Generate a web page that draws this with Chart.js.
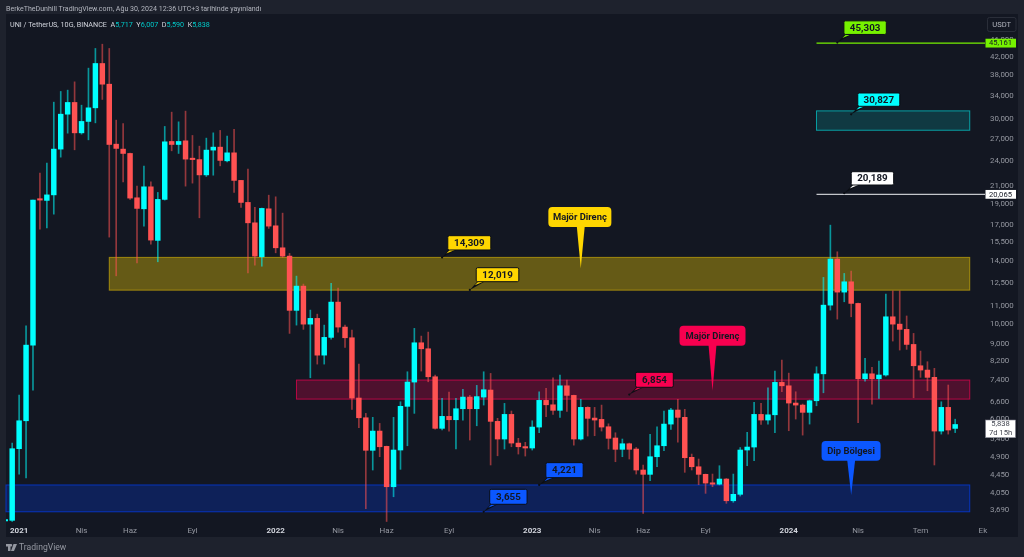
<!DOCTYPE html>
<html lang="tr">
<head>
<meta charset="utf-8">
<title>UNI / TetherUS</title>
<script src="https://cdn.jsdelivr.net/npm/chart.js@4"></script>
<style>
    html, body { margin: 0; padding: 0; background: #1e222d; overflow: hidden; }
    #wrap { position: relative; width: 1024px; height: 557px; font-family: Roboto, sans-serif; }
    canvas { position: absolute; left: 0; top: 0; }
    .txt { position: absolute; white-space: pre; }
    #published { left: 6px; top: 4px; font-size: 7.05px; line-height: 9px; color: #b2b5be; }
    #legend { left: 10px; top: 20px; font-size: 7.2px; line-height: 10px; color: #d1d4dc; }
    #legend b { font-weight: 400; color: #00c8c8; }
    #brand { left: 19px; top: 542px; font-size: 8.6px; line-height: 11px; color: #9598a1; }
    #logo { position: absolute; left: 6px; top: 544px; }
</style>
</head>
<body>
<div id="wrap">
    <canvas id="chart" width="1024" height="557"></canvas>
    <div class="txt" id="published">BerkeTheDunhill TradingView.com, Ağu 30, 2024 12:36 UTC+3 tarihinde yayınlandı</div>
    <div class="txt" id="legend">UNI / TetherUS, 10G, BINANCE  A<b>5,717</b>  Y<b>6,007</b>  D<b>5,590</b>  K<b>5,838</b></div>
    <svg id="logo" width="11" height="7" viewBox="0 0 22 14"><path fill="#9598a1" d="M0 0h9v14H4V5H0zM10 0a2.5 2.5 0 1 1 0 5 2.5 2.5 0 0 1 0-5zM15 0h7l-6 14h-6z"/></svg>
    <div class="txt" id="brand">TradingView</div>
</div>
<script>
const opens = [
    3479, 3491, 5127, 5956, 8937, 19530, 19425, 20009, 25577, 30848,
    32851, 27909, 29671, 31917, 40488, 36233, 26264, 25577, 24988, 19700,
    18568, 20893, 15675, 19530, 26650, 26221, 26740, 24241, 24180, 22274,
    25440, 25850, 24020, 25071, 21624, 19215, 17224, 14355, 18568, 16950,
    15064, 14406, 10768, 12265, 10002, 10315, 8470, 9316, 11257, 9845,
    9297, 6728, 6053, 5083, 5636, 5192, 4181, 5091, 6435, 7330,
    9050, 8764, 7542, 5719, 6098, 5989, 6353, 6763, 6353, 6763,
    7023, 5937, 5400, 6163, 5284, 5181, 5146, 5758, 6645, 6489,
    6299, 7185, 6825, 5400, 6400, 6043, 6000, 5768, 5430, 5110,
    5265, 5118, 4573, 4468, 4911, 5209, 5851, 6309, 6066, 4895,
    4654, 4468, 4264, 4238, 4357, 3878, 4014, 5091, 5173, 6163,
    5979, 6150, 7318, 7185, 6550, 6479, 6231, 6631, 7662, 11075,
    14179, 11877, 12553, 11178, 7462, 7662, 7462, 7613, 10404, 10002,
    9725, 8970, 8000, 7818, 7518, 5636, 6400, 5717,
];
const highs = [
    3500, 5284, 6834, 9913, 19456, 22484, 23722, 32904, 34850, 35096,
    36692, 32374, 39491, 43889, 44902, 43889, 29880, 29349, 25030, 20970,
    23343, 21462, 20273, 28884, 31186, 29608, 31356, 27520, 25987, 27130,
    27909, 28275, 27418, 28428, 21640, 22975, 18707, 18640, 19976, 19802,
    18143, 14616, 12941, 12400, 10785, 10553, 9950, 12443, 12137, 9950,
    9689, 8072, 6197, 6066, 5873, 5200, 6066, 6595, 7747, 9777,
    9381, 9584, 7613, 6717, 6947, 6717, 7049, 6825, 7201, 7747,
    7679, 6034, 6538, 6275, 5420, 5305, 5956, 6959, 7087, 7502,
    7613, 7410, 6834, 6681, 6420, 6400, 6479, 5860, 5585, 5400,
    5284, 5160, 4698, 5536, 5767, 6275, 6367, 6681, 6333, 4982,
    4851, 4475, 4475, 4680, 4370, 4475, 5160, 5598, 6574, 6538,
    7110, 7776, 8249, 7691, 6959, 6515, 6656, 7957, 12852, 17010,
    14745, 13129, 13294, 11200, 8325, 7932, 8205, 11749, 11956, 11956,
    10450, 9517, 8656, 8176, 7890, 6595, 7215, 6007,
];
const lows = [
    3475, 3470, 4475, 4381, 7023, 16654, 16770, 18043, 24500, 27863,
    25481, 27711, 26884, 29447, 33389, 15953, 12961, 21462, 19530, 13898,
    16921, 15362, 13975, 19456, 25344, 24988, 20970, 21310, 17693, 22090,
    22237, 23381, 23892, 20273, 18707, 13172, 13724, 13647, 16716, 14664,
    14307, 9517, 9950, 9725, 7502, 8072, 8072, 9233, 9584, 8829,
    6333, 5737, 3716, 4573, 4911, 3470, 3962, 4590, 5209, 6197,
    7776, 7342, 5697, 5667, 5636, 5118, 5979, 5371, 5798, 6479,
    4698, 4936, 5118, 5181, 4982, 4929, 5091, 5585, 6085, 6163,
    6066, 6265, 5226, 5371, 5487, 5497, 5636, 5118, 4781, 4911,
    4851, 4475, 3625, 4318, 4655, 5072, 5688, 5313, 4517, 4573,
    4228, 4035, 4181, 4221, 3825, 3846, 3977, 4680, 4807, 5842,
    5851, 5585, 6959, 5646, 6011, 5515, 5851, 6455, 6921, 10785,
    10277, 11276, 10404, 5892, 7370, 6514, 6717, 7570, 9134, 8703,
    8736, 6738, 7518, 6997, 4698, 5545, 5545, 5590,
];
const closes = [
    3497, 5127, 5956, 8937, 19456, 19456, 20009, 25577, 30848, 32851,
    27909, 29671, 31917, 40488, 36233, 26221, 25672, 24988, 19666, 18608,
    20893, 15700, 19530, 26597, 26221, 26650, 24241, 24180, 22274, 25440,
    25850, 24072, 25071, 21624, 19215, 17224, 14406, 18608, 16921, 15064,
    14406, 10768, 12265, 10002, 10315, 8469, 9316, 11257, 9845, 9297,
    6728, 6053, 5083, 5636, 5181, 4181, 5091, 6435, 7330, 9050,
    8764, 7542, 5719, 6098, 5989, 6353, 6763, 6353, 6780, 7035,
    5937, 5400, 6163, 5284, 5181, 5146, 5758, 6645, 6489, 6299,
    7185, 6825, 5400, 6400, 6034, 5979, 5758, 5420, 5110, 5265,
    5110, 4573, 4468, 4911, 5209, 5851, 6309, 6066, 4885, 4654,
    4468, 4264, 4238, 4357, 3878, 4014, 5091, 5173, 6163, 5979,
    6150, 7318, 7185, 6550, 6479, 6231, 6631, 7662, 11075, 14179,
    11877, 12553, 11178, 7462, 7662, 7462, 7613, 10404, 10002, 9725,
    8970, 8000, 7818, 7518, 5636, 6400, 5667, 5838,
];

// time axis
const timeTickIndexes = [2, 11, 18, 27, 39, 48, 55, 64, 76, 85, 92, 101, 113, 123, 132, 141];
const timeTickLabels = ["2021", "Nis", "Haz", "Eyl", "2022", "Nis", "Haz", "Eyl", "2023", "Nis", "Haz", "Eyl", "2024", "Nis", "Tem", "Ek"];

// price axis
const priceTicks = [3690, 4050, 4450, 4900, 5400, 6000, 6600, 7400, 8200, 9000, 10000, 11000, 12500, 14000, 15500, 17000, 19000, 21000, 24000, 27000, 30000, 34000, 38000, 42000, 46000];

// zones, from candle index to candle index
const zoneStarts = [15, 42, 0, 117];
const zoneEnds = [139.1, 139.1, 139.1, 139.1];
const zoneTops = [14309, 7410, 4221, 31400];
const zoneBottoms = [12000, 6690, 3655, 28300];

// horizontal levels
const levelStarts = [117, 117];
const levelPrices = [45161, 20065];

const lastPrice = 5838;
const lastPriceCountdown = "7d 15h";

// callouts
const calloutTexts = ["14,309", "12,019", "Majör Direnç", "6,854", "Majör Direnç", "4,221", "3,655", "Dip Bölgesi", "45,303", "30,827", "20,189"];
const calloutIndexes = [63, 67, 83, 90, 102, 77, 69, 122, 120, 122, 121];
const calloutPrices = [14309, 12019, 13500, 6854, 7000, 4221, 3655, 4000, 45303, 30827, 20189];

const GREEN = "#76f200";
const YELLOW = "#ffd600";
const CRIMSON = "#f7004f";
const BLUE = "#0b57ff";
const CYAN = "#00ffff";
const WHITE = "#ffffff";

const zoneStyles = [
    { fill: "rgba(255,214,0,0.35)", line: "rgba(255,214,0,0.5)" },
    { fill: "rgba(255,0,85,0.25)", line: "rgba(255,0,85,0.65)" },
    { fill: "rgba(0,64,255,0.25)", line: "rgba(0,64,255,0.65)" },
    { fill: "rgba(0,255,255,0.15)", line: "rgba(0,255,255,0.55)" },
];
const levelColors = [GREEN, "#c4c6cb"];

// dx, dy, w, h of the box from the anchor point
const calloutBoxes = [
    [5.7, -21.7, 43, 14.3], [6.4, -22.2, 42.6, 14], [-32.4, -61.3, 63, 20],
    [6.3, -22.3, 37.7, 15], [-33, -65, 66, 20], [6.7, -22.3, 37.3, 15],
    [6, -22.5, 37.4, 15], [-29.6, -54, 59, 19.7], [6.6, -21.7, 42.4, 13.6],
    [6.6, -21.3, 42, 13.3], [7, -21.5, 42.4, 13.3],
];
const calloutColors = [YELLOW, YELLOW, YELLOW, CRIMSON, CRIMSON, BLUE, BLUE, BLUE, GREEN, CYAN, WHITE];
const calloutPins = [false, false, true, false, true, false, false, true, false, false, false];

const bodyData = opens.map((open, i) => ({ x: i, y: [open, closes[i]] }));
const wickData = lows.map((low, i) => ({ x: i, y: [low, highs[i]] }));
const isUp = (i) => closes[i] >= opens[i];

function formatPrice(value) {
    return value.toLocaleString("en-US");
}

function timeLabel(value) {
    return timeTickLabels[timeTickIndexes.indexOf(value)] || "";
}

function isYearTick(ctx) {
    return !!ctx.tick && timeLabel(ctx.tick.value).length === 4;
}

function roundedBox(ctx, x, y, w, h, r) {
    ctx.beginPath();
    ctx.roundRect(x, y, w, h, r);
}

const zonesPlugin = {
    id: "zonesPlugin",
    beforeDatasetsDraw: (chart) => {
        const ctx = chart.ctx;
        const xScale = chart.scales.x;
        const yScale = chart.scales.y;

        ctx.save();
        zoneTops.forEach((top, i) => {
            const left = Math.max(xScale.getPixelForValue(zoneStarts[i]), chart.chartArea.left);
            const right = xScale.getPixelForValue(zoneEnds[i]);
            const y1 = yScale.getPixelForValue(top);
            const y2 = yScale.getPixelForValue(zoneBottoms[i]);
            ctx.fillStyle = zoneStyles[i].fill;
            ctx.strokeStyle = zoneStyles[i].line;
            ctx.lineWidth = 1;
            ctx.fillRect(left, y1, right - left, y2 - y1);
            ctx.strokeRect(left, y1, right - left, y2 - y1);
        });

        levelPrices.forEach((price, i) => {
            const y = yScale.getPixelForValue(price);
            ctx.strokeStyle = levelColors[i];
            ctx.lineWidth = 1.2;
            ctx.beginPath();
            ctx.moveTo(xScale.getPixelForValue(levelStarts[i]), y);
            ctx.lineTo(chart.chartArea.right, y);
            ctx.stroke();
        });
        ctx.restore();
    },
};

const calloutsPlugin = {
    id: "calloutsPlugin",
    afterDatasetsDraw: (chart) => {
        const ctx = chart.ctx;
        const xScale = chart.scales.x;
        const yScale = chart.scales.y;

        ctx.save();
        calloutTexts.forEach((text, i) => {
            const ax = xScale.getPixelForValue(calloutIndexes[i]);
            const ay = yScale.getPixelForValue(calloutPrices[i]);
            const [dx, dy, w, h] = calloutBoxes[i];
            const x = ax + dx;
            const y = ay + dy;
            const pin = calloutPins[i];

            ctx.fillStyle = calloutColors[i];
            if (pin) {
                ctx.beginPath();
                ctx.moveTo(ax - 4, y + h - 1);
                ctx.lineTo(ax + 4, y + h - 1);
                ctx.lineTo(ax, ay);
                ctx.closePath();
                ctx.fill();
                roundedBox(ctx, x, y, w, h, 4);
                ctx.fill();
            } else {
                // tail: dark towards the anchor, box colour near the box
                ctx.fillStyle = "#0b0e14";
                ctx.beginPath();
                ctx.moveTo(x + 1, y + h);
                ctx.lineTo(x + 8, y + h);
                ctx.lineTo(ax, ay);
                ctx.closePath();
                ctx.fill();
                ctx.fillStyle = calloutColors[i];
                ctx.beginPath();
                ctx.moveTo(x + 2, y + h);
                ctx.lineTo(x + 7, y + h);
                ctx.lineTo(x - 1.5, y + h + 3.5);
                ctx.closePath();
                ctx.fill();
                ctx.beginPath();
                ctx.arc(ax, ay, 1.1, 0, Math.PI * 2);
                ctx.fillStyle = "#0b0e14";
                ctx.fill();
                ctx.strokeStyle = "#0b0e14";
                ctx.lineWidth = 1;
                roundedBox(ctx, x, y, w, h, 1.5);
                ctx.fillStyle = calloutColors[i];
                ctx.fill();
                ctx.stroke();
            }

            ctx.fillStyle = "#131722";
            ctx.font = (pin ? "bold 9.4px " : "bold 9.8px ") + "Roboto, sans-serif";
            ctx.textAlign = "center";
            ctx.textBaseline = "middle";
            ctx.fillText(text, x + w / 2, y + h / 2 + 0.5);
        });
        ctx.restore();
    },
    afterDraw: (chart) => {
        const ctx = chart.ctx;
        const yScale = chart.scales.y;
        const left = chart.chartArea.right + 0.5;

        ctx.save();
        ctx.textBaseline = "middle";
        ctx.textAlign = "center";
        ctx.font = "7.6px Roboto, sans-serif";

        // boxed price levels on the axis
        levelPrices.forEach((price, i) => {
            const y = yScale.getPixelForValue(price);
            ctx.fillStyle = i === 0 ? GREEN : WHITE;
            ctx.fillRect(left, y - 4.4, 30.5, 8.8);
            ctx.fillStyle = "#131722";
            ctx.fillText(formatPrice(price), left + 15, y + 0.3);
        });

        // last price with countdown
        const lastY = yScale.getPixelForValue(lastPrice);
        ctx.fillStyle = WHITE;
        ctx.strokeStyle = "#787b86";
        ctx.lineWidth = 0.6;
        ctx.fillRect(left, lastY - 4.5, 30, 17.7);
        ctx.strokeRect(left, lastY - 4.5, 30, 17.7);
        ctx.fillStyle = "#434651";
        ctx.fillText(formatPrice(lastPrice), left + 15, lastY + 0);
        ctx.fillText(lastPriceCountdown, left + 15, lastY + 8.6);

        // currency button
        ctx.strokeStyle = "#2a2e39";
        ctx.lineWidth = 1;
        roundedBox(ctx, 987.5, 17.5, 28.5, 14, 2);
        ctx.stroke();
        ctx.fillStyle = "#b2b5be";
        ctx.fillText("USDT", 1001.7, 24.8);
        ctx.restore();
    },
};

const backgroundPlugin = {
    id: "backgroundPlugin",
    beforeDraw: (chart) => {
        const ctx = chart.ctx;
        ctx.save();
        ctx.fillStyle = "#1e222d";
        ctx.fillRect(0, 0, chart.width, chart.height);
        ctx.fillStyle = "#131722";
        ctx.fillRect(6, 14, 1012, 523);
        ctx.restore();
    },
};

Chart.defaults.font.family = "Roboto, sans-serif";

new Chart(document.getElementById("chart").getContext("2d"), {
    type: "bar",
    data: {
        datasets: [
            {
                label: "Wick",
                data: wickData,
                backgroundColor: opens.map((_, i) => isUp(i) ? "rgba(0,255,255,0.55)" : "rgba(255,82,82,0.55)"),
                barThickness: 1,
                grouped: false,
                order: 2,
            },
            {
                label: "UNI / TetherUS",
                data: bodyData,
                backgroundColor: opens.map((_, i) => isUp(i) ? "#00ffff" : "#ff5252"),
                barThickness: 4.8,
                minBarLength: 1.4,
                grouped: false,
                order: 1,
            },
        ],
    },
    options: {
        responsive: false,
        devicePixelRatio: 1,
        animation: false,
        layout: { padding: { left: 6, right: 6, top: 14, bottom: 20 } },
        plugins: {
            legend: { display: false },
            title: { display: false },
            tooltip: { enabled: false },
        },
        scales: {
            x: {
                type: "linear",
                offset: false,
                min: 0.107,
                max: 141.3,
                grid: { display: false, offset: false, drawTicks: false },
                border: { display: false },
                afterBuildTicks: (scale) => {
                    scale.ticks = timeTickIndexes.map((value) => ({ value }));
                },
                afterFit: (scale) => {
                    scale.height = 12;
                },
                ticks: {
                    autoSkip: false,
                    maxRotation: 0,
                    padding: 1,
                    color: (ctx) => isYearTick(ctx) ? "#d1d4dc" : "#9598a1",
                    font: (ctx) => ({ size: 8, weight: isYearTick(ctx) ? "bold" : "normal" }),
                    callback: (value) => timeLabel(value),
                },
            },
            y: {
                type: "logarithmic",
                position: "right",
                min: 3405,
                max: 52800,
                grid: { display: false, drawTicks: false },
                border: { display: false },
                afterBuildTicks: (scale) => {
                    scale.ticks = priceTicks.map((value) => ({ value }));
                },
                afterFit: (scale) => {
                    scale.width = 33;
                },
                ticks: {
                    autoSkip: false,
                    padding: 5,
                    color: "#9598a1",
                    font: { size: 7.9 },
                    callback: (value) => formatPrice(value),
                },
            },
        },
    },
    plugins: [backgroundPlugin, zonesPlugin, calloutsPlugin],
});
</script>
</body>
</html>
